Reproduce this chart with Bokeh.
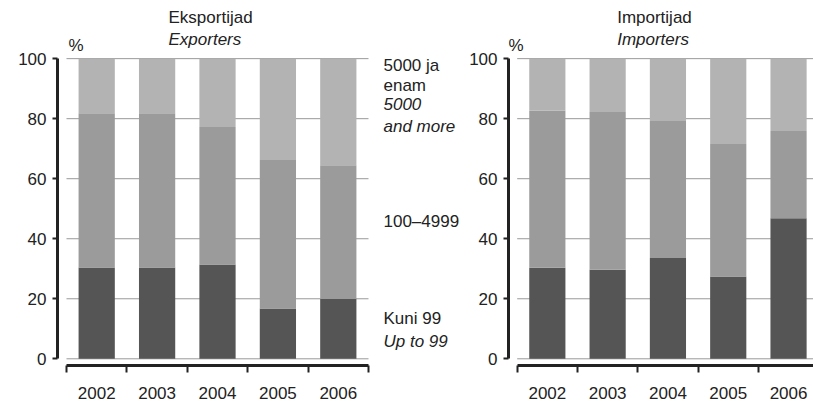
from bokeh.plotting import figure
from bokeh.models import Range1d, FixedTicker, Label, LinearAxis
from bokeh.layouts import row
from bokeh.embed import file_html
from bokeh.resources import INLINE

years = ["2002", "2003", "2004", "2005", "2006"]
y_ticks = [0, 20, 40, 60, 80, 100]

# Exporters (% of enterprises by size class)
exp_small = [30.4, 30.4, 31.4, 16.8, 20.0]
exp_mid = [51.4, 51.4, 45.8, 49.4, 44.5]
exp_large = [18.2, 18.2, 22.8, 33.8, 35.5]

# Importers
imp_small = [30.3, 29.7, 33.6, 27.4, 46.8]
imp_mid = [52.3, 52.5, 45.6, 44.2, 29.1]
imp_large = [17.4, 17.8, 20.8, 28.4, 24.1]

titles_left = ["Eksportijad", "Exporters"]
titles_right = ["Importijad", "Importers"]
legend_lines = ["5000 ja", "enam", "5000", "and more", "100\u20134999", "Kuni 99", "Up to 99"]
legend_styles = ["normal", "normal", "italic", "italic", "normal", "normal", "italic"]
legend_y = [97.8, 91.1, 84.8, 77.5, 45.6, 13.4, 5.7]

COLORS = ["#555555", "#9b9b9b", "#b3b3b3"]
FONT = "Liberation Sans"
TXT = "#222222"
FS = "17px"
Y_RANGE = (-2.23, 119.37)


def label(p, x, y, text, style="normal"):
    p.add_layout(Label(x=x, y=y, text=text, text_font=FONT, text_font_size=FS,
                       text_font_style=style, text_color=TXT, text_baseline="middle",
                       text_align="left"))


def make_chart(small, mid, large, titles, width, x_start, x_end, mb_left, title_x, pct_x):
    p = figure(width=width, height=401, output_backend="svg", toolbar_location=None,
               x_range=Range1d(x_start, x_end), y_range=Range1d(*Y_RANGE),
               min_border_left=mb_left, min_border_right=0,
               min_border_top=0, min_border_bottom=35,
               x_axis_location=None, y_axis_location=None)
    p.outline_line_color = None
    p.xgrid.visible = False
    p.ygrid.visible = False

    # gridlines at tick values, across the category span
    p.segment(x0=[-0.5] * len(y_ticks), x1=[4.5] * len(y_ticks), y0=y_ticks, y1=y_ticks,
              line_color="#999999", line_width=1)

    xs = list(range(len(years)))
    data = dict(x=xs, small=small, mid=mid, large=large)
    p.vbar_stack(["small", "mid", "large"], x="x", width=0.6, source=data,
                 color=COLORS, line_color=None)

    yaxis = LinearAxis(ticker=FixedTicker(ticks=y_ticks), bounds=(0, 100))
    yaxis.axis_line_width = 3
    yaxis.axis_line_color = TXT
    yaxis.major_tick_out = 5
    yaxis.major_tick_in = 0
    yaxis.major_tick_line_width = 2
    yaxis.major_tick_line_color = TXT
    yaxis.minor_tick_line_color = None
    yaxis.major_label_standoff = 6
    yaxis.major_label_text_font = FONT
    yaxis.major_label_text_font_size = FS
    yaxis.major_label_text_color = TXT
    p.add_layout(yaxis, "left")

    xaxis = LinearAxis(ticker=FixedTicker(ticks=xs, minor_ticks=[i - 0.5 for i in range(len(years) + 1)]),
                       bounds=(-0.5, 4.5))
    xaxis.major_label_overrides = {i: y for i, y in enumerate(years)}
    xaxis.axis_line_width = 3
    xaxis.axis_line_color = TXT
    xaxis.major_tick_out = 0
    xaxis.major_tick_in = 0
    xaxis.major_tick_line_color = None
    xaxis.minor_tick_out = 7
    xaxis.minor_tick_in = 0
    xaxis.minor_tick_line_width = 2
    xaxis.minor_tick_line_color = TXT
    xaxis.major_label_standoff = 14
    xaxis.major_label_text_font = FONT
    xaxis.major_label_text_font_size = FS
    xaxis.major_label_text_color = TXT
    p.add_layout(xaxis, "below")

    label(p, title_x, 113.7, titles[0])
    label(p, title_x, 106.4, titles[1], "italic")
    label(p, pct_x, 104.4, "%")
    return p


p1 = make_chart(exp_small, exp_mid, exp_large, titles_left, 465, -0.649, 6.106, 57,
                1.189, -0.467)
for t, style, yy in zip(legend_lines, legend_styles, legend_y):
    label(p1, 4.748, yy, t, style)

p2 = make_chart(imp_small, imp_mid, imp_large, titles_right, 348, -0.644, 4.414, 43,
                1.158, -0.644)

layout = row(p1, p2)
open("out.html", "w").write(file_html(layout, INLINE))
